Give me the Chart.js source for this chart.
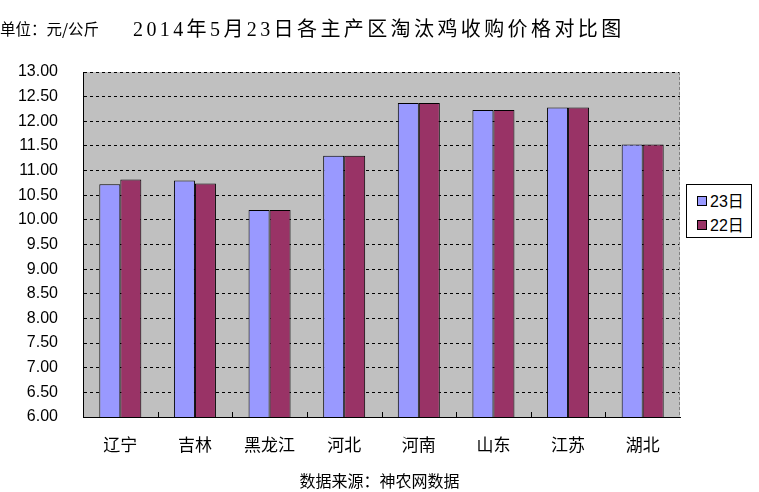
<!DOCTYPE html>
<html>
<head>
<meta charset="utf-8">
<script src="https://cdn.jsdelivr.net/npm/chart.js@4/dist/chart.umd.min.js"></script>
<style>
  html, body { margin: 0; padding: 0; background: #fff; }
  #wrap { position: relative; width: 759px; height: 492px; overflow: hidden; }
  #unit { position: absolute; left: 0; top: 17px; font: 15.5px "Noto Sans CJK SC", sans-serif; color: #000; }
  #title { position: absolute; left: 133px; top: 13px; font: 20px "Liberation Serif", "Noto Sans CJK SC", serif; letter-spacing: 3.4px; color: #000; }
  #source { position: absolute; left: 0; width: 759px; top: 468px; text-align: center; font: 16px "Noto Sans CJK SC", sans-serif; color: #000; }
  #legend { position: absolute; left: 686px; top: 184px; width: 64px; height: 52px; border: 1px solid #000; background: #fff;
            font: 16px "Liberation Sans", "Noto Sans CJK SC", sans-serif; }
  #legend div { position: absolute; left: 10px; height: 20px; line-height: 20px; }
  #legend span { display: inline-block; width: 8px; height: 8px; border: 1px solid #000; margin-right: 3px; vertical-align: 1px; }
</style>
</head>
<body>
<div id="wrap">
  <canvas id="chart" width="759" height="492"></canvas>
  <div id="unit">单位：元/公斤</div>
  <div id="title">2014年5月23日各主产区淘汰鸡收购价格对比图</div>
  <div id="legend"></div>
  <div id="source">数据来源：神农网数据</div>
</div>
<script>
const regions = ['辽宁', '吉林', '黑龙江', '河北', '河南', '山东', '江苏', '湖北'];
const price23 = [10.72, 10.80, 10.20, 11.30, 12.37, 12.23, 12.28, 11.53];
const price22 = [10.82, 10.74, 10.20, 11.30, 12.37, 12.23, 12.28, 11.53];
const seriesNames = ['23日', '22日'];
const seriesColors = ['#9999ff', '#993366'];

// legend box on the right
const legendEl = document.getElementById('legend');
seriesNames.forEach((name, i) => {
  const row = document.createElement('div');
  row.style.top = (i === 0 ? 7 : 31) + 'px';
  row.innerHTML = `<span style="background:${seriesColors[i]}"></span>${name}`;
  legendEl.appendChild(row);
});

// grey plot background, dashed right edge, small inside ticks on the x axis
const plotDecor = {
  id: 'plotDecor',
  beforeDraw(chart) {
    const { ctx, chartArea: a } = chart;
    ctx.save();
    ctx.fillStyle = '#c0c0c0';
    ctx.fillRect(a.left, a.top, a.right - a.left, a.bottom - a.top);
    ctx.restore();
  },
  afterDraw(chart) {
    const { ctx, chartArea: a } = chart;
    ctx.save();
    ctx.strokeStyle = '#808080';
    ctx.lineWidth = 1;
    ctx.setLineDash([3, 2]);
    ctx.beginPath();
    ctx.moveTo(Math.round(a.right) - 0.5, a.top);
    ctx.lineTo(Math.round(a.right) - 0.5, a.bottom);
    ctx.stroke();
    ctx.setLineDash([]);
    ctx.strokeStyle = '#000';
    const step = (a.right - a.left) / regions.length;
    ctx.beginPath();
    for (let i = 1; i < regions.length; i++) {
      const x = Math.round(a.left + step * i) + 0.5;
      ctx.moveTo(x, a.bottom);
      ctx.lineTo(x, a.bottom - 5);
    }
    ctx.stroke();
    ctx.restore();
  }
};

new Chart(document.getElementById('chart'), {
  type: 'bar',
  data: {
    labels: regions,
    datasets: [
      { label: seriesNames[0], data: price23, backgroundColor: seriesColors[0] },
      { label: seriesNames[1], data: price22, backgroundColor: seriesColors[1] }
    ]
  },
  options: {
    responsive: false,
    animation: false,
    layout: { padding: { left: 0, right: 79, top: 72, bottom: 0 } },
    datasets: {
      bar: { categoryPercentage: 0.563, barPercentage: 1, borderColor: '#000', borderWidth: 1, borderSkipped: 'bottom' }
    },
    scales: {
      x: {
        afterFit: (s) => { s.height = 75; },
        grid: { display: false, drawTicks: false },
        border: { display: true, color: '#000', width: 1 },
        ticks: { color: '#000', padding: 17, font: { family: '"Noto Sans CJK SC", sans-serif', size: 17 } }
      },
      y: {
        min: 6, max: 13,
        afterFit: (s) => { s.width = 83; },
        grid: {
          drawTicks: false,
          color: (c) => c.tick && c.tick.value === 6 ? 'rgba(0,0,0,0)' : '#000',
          tickBorderDash: [3, 3]
        },
        border: { display: true, color: '#000', width: 1, dash: [3, 3] },
        ticks: {
          stepSize: 0.5,
          padding: 25,
          color: '#000',
          font: { family: '"Liberation Sans", sans-serif', size: 16 },
          callback: (v) => Number(v).toFixed(2)
        }
      }
    },
    plugins: { legend: { display: false }, tooltip: { enabled: false } }
  },
  plugins: [plotDecor]
});
</script>
</body>
</html>
